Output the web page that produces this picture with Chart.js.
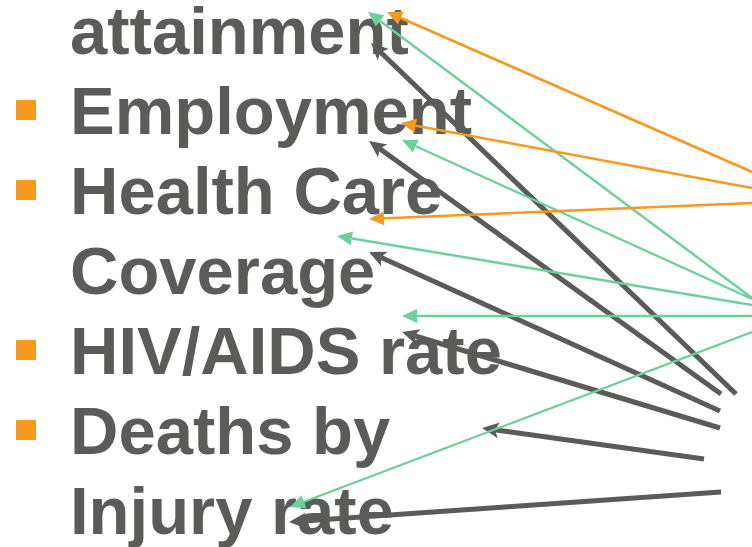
<!DOCTYPE html>
<html>
<head>
<meta charset="utf-8">
<script src="https://cdn.jsdelivr.net/npm/chart.js@4/dist/chart.umd.min.js"></script>
<style>
  html, body { margin: 0; padding: 0; background: #ffffff; }
  body { width: 752px; height: 547px; overflow: hidden; position: relative; }
  #txt { position: absolute; left: 0; top: -9px; width: 752px;
         font-family: "Liberation Sans", Arial, sans-serif; font-weight: bold;
         font-size: 67px; line-height: 80px; color: #5A5C59; }
  .ln { position: relative; height: 80px; padding-left: 70px; white-space: pre; }
  .bul { position: absolute; left: 16px; top: 29px; width: 20px; height: 20px; background: #F7981F; }
  #cv { position: absolute; left: 0; top: 0; }
</style>
</head>
<body>
<div id="txt"></div>
<canvas id="cv" width="752" height="547"></canvas>
<script>
// ---- text content ----
const lines = ['attainment', 'Employment', 'Health Care', 'Coverage', 'HIV/AIDS rate', 'Deaths by', 'Injury rate'];
const bulleted = [false, true, true, false, true, true, false];

// ---- arrow data (start point -> tip point), in picture units ----
const orangeStartX = [752, 752, 752];
const orangeStartY = [172, 188, 203];
const orangeTipX   = [387, 401, 369];
const orangeTipY   = [12, 123, 219];

const greenStartX = [752, 752, 752, 752, 752];
const greenStartY = [298, 299, 305, 316, 332];
const greenTipX   = [368, 402, 337, 402, 290];
const greenTipY   = [12, 140, 236, 316, 507];

const grayStartX = [736, 721, 720, 720, 704, 721];
const grayStartY = [394, 394, 411, 428, 459, 492];
const grayTipX   = [371, 369, 369, 402, 482, 289];
const grayTipY   = [43, 141, 252, 332, 428, 522];

// ---- build text ----
const txt = document.getElementById('txt');
lines.forEach((s, i) => {
  const d = document.createElement('div');
  d.className = 'ln';
  d.textContent = s;
  if (bulleted[i]) {
    const b = document.createElement('span');
    b.className = 'bul';
    d.appendChild(b);
  }
  txt.appendChild(d);
});

// ---- datasets ----
const ORANGE = '#F7981F', GREEN = '#6DD09A', GRAY = '#5A5C59';
function makeSet(sx, sy, tx, ty, color, width, head) {
  return sx.map((_, i) => ({
    data: [{x: sx[i], y: sy[i]}, {x: tx[i], y: ty[i]}],
    showLine: true,
    borderColor: color,
    backgroundColor: color,
    borderWidth: width,
    pointRadius: 0,
    pointHoverRadius: 0,
    clip: false,
    head: head
  }));
}
const datasets = [
  ...makeSet(orangeStartX, orangeStartY, orangeTipX, orangeTipY, ORANGE, 2.6, {len: 15, half: 7, notch: 0}),
  ...makeSet(greenStartX, greenStartY, greenTipX, greenTipY, GREEN, 2.4, {len: 15, half: 7, notch: 0}),
  ...makeSet(grayStartX, grayStartY, grayTipX, grayTipY, GRAY, 5.2, {len: 17, half: 8, notch: 4})
];

function geom(meta, ds) {
  const p0 = meta.data[0], p1 = meta.data[1];
  const dx = p1.x - p0.x, dy = p1.y - p0.y;
  const L = Math.hypot(dx, dy);
  const ux = dx / L, uy = dy / L;
  const nx = -uy, ny = ux;
  return {tx: p1.x, ty: p1.y, ux, uy, nx, ny, h: ds.head};
}

const arrowPlugin = {
  id: 'arrowHeads',
  beforeDatasetDraw(chart, args) {
    const ds = chart.data.datasets[args.index];
    const g = geom(args.meta, ds);
    const ctx = chart.ctx;
    ctx.save();
    const cut = g.h.len - g.h.notch;
    const bx = g.tx - g.ux * cut, by = g.ty - g.uy * cut;
    ctx.beginPath();
    ctx.moveTo(bx + g.nx * 3000, by + g.ny * 3000);
    ctx.lineTo(bx - g.nx * 3000, by - g.ny * 3000);
    ctx.lineTo(bx - g.nx * 3000 - g.ux * 3000, by - g.ny * 3000 - g.uy * 3000);
    ctx.lineTo(bx + g.nx * 3000 - g.ux * 3000, by + g.ny * 3000 - g.uy * 3000);
    ctx.closePath();
    ctx.clip();
  },
  afterDatasetDraw(chart, args) {
    const ctx = chart.ctx;
    ctx.restore();
    const ds = chart.data.datasets[args.index];
    const g = geom(args.meta, ds);
    const h = g.h;
    const backX = g.tx - g.ux * h.len, backY = g.ty - g.uy * h.len;
    ctx.save();
    ctx.fillStyle = ds.borderColor;
    ctx.beginPath();
    ctx.moveTo(g.tx, g.ty);
    ctx.lineTo(backX + g.nx * h.half, backY + g.ny * h.half);
    ctx.lineTo(g.tx - g.ux * (h.len - h.notch), g.ty - g.uy * (h.len - h.notch));
    ctx.lineTo(backX - g.nx * h.half, backY - g.ny * h.half);
    ctx.closePath();
    ctx.fill();
    ctx.restore();
  }
};

new Chart(document.getElementById('cv'), {
  type: 'scatter',
  data: { datasets },
  options: {
    responsive: false,
    animation: false,
    events: [],
    layout: { padding: 0 },
    plugins: { legend: { display: false }, tooltip: { enabled: false } },
    scales: {
      x: { type: 'linear', min: 0, max: 752, display: false },
      y: { type: 'linear', min: 0, max: 547, reverse: true, display: false }
    }
  },
  plugins: [arrowPlugin]
});
</script>
</body>
</html>
